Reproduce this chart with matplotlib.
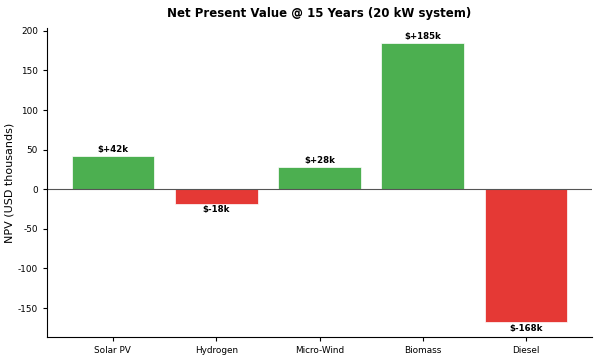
import matplotlib
matplotlib.use("Agg")
import matplotlib.pyplot as plt

plt.rcParams["axes.unicode_minus"] = False

categories = ["Solar PV", "Hydrogen", "Micro-Wind", "Biomass", "Diesel"]
npv = [42, -18, 28, 185, -168]
labels = ["$+42k", "$-18k", "$+28k", "$+185k", "$-168k"]

colors = ["#4CAF50" if v >= 0 else "#E53935" for v in npv]

fig, ax = plt.subplots(figsize=(6, 3.6), dpi=100)
bars = ax.bar(categories, npv, color=colors, width=0.8, edgecolor="white", linewidth=0.5)
ax.axhline(0, color="#555555", linewidth=0.8)
for b, v, lab in zip(bars, npv, labels):
    x = b.get_x() + b.get_width() / 2
    if v >= 0:
        ax.text(x, v + 2, lab, ha="center", va="bottom", fontsize=6.2, fontweight="bold")
    else:
        ax.text(x, v - 2, lab, ha="center", va="top", fontsize=6.2, fontweight="bold")
ax.set_ylim(min(npv) * 1.11, max(npv) * 1.1)
ax.set_ylabel("NPV (USD thousands)", fontsize=8, labelpad=2)
ax.set_title("Net Present Value @ 15 Years (20 kW system)", fontsize=8.5, fontweight="bold", pad=8)
ax.spines["top"].set_visible(False)
ax.spines["right"].set_visible(False)
ax.tick_params(labelsize=6.4, length=3)
fig.subplots_adjust(left=0.078, right=0.987, top=0.922, bottom=0.064)
fig.savefig("out.png", dpi=100)
